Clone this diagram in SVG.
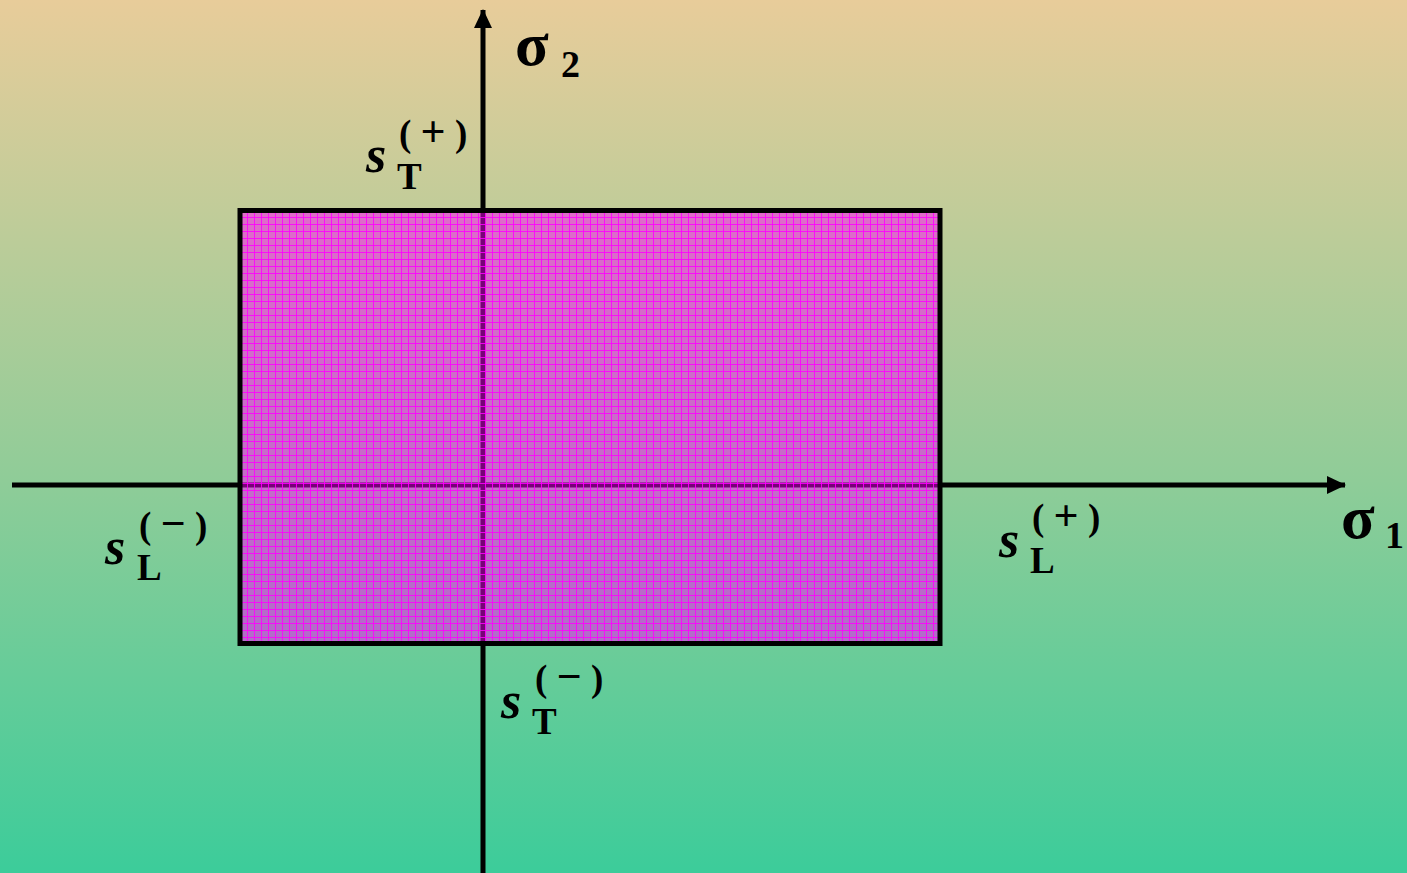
<svg xmlns="http://www.w3.org/2000/svg" width="1407" height="873" viewBox="0 0 1407 873">
<defs>
<linearGradient id="bg" x1="0" y1="0" x2="0" y2="1">
<stop offset="0" stop-color="#e8cc9a"/>
<stop offset="0.55" stop-color="#8fcc98"/>
<stop offset="1" stop-color="#3ccc9a"/>
</linearGradient>
<pattern id="grid" x="240" y="210" width="7" height="7" patternUnits="userSpaceOnUse">
<rect x="0" y="0" width="7" height="7" fill="#ff00ff" fill-opacity="0.47"/>
<rect x="0" y="0" width="7" height="1" fill="#ff00ff" fill-opacity="0.85"/>
<rect x="0" y="0" width="1" height="7" fill="#ff00ff" fill-opacity="0.85"/>
</pattern>
<marker id="arr" viewBox="0 0 20 20" refX="18" refY="10" markerWidth="20" markerHeight="20" markerUnits="userSpaceOnUse" orient="auto">
<path d="M0,1 L19,10 L0,19 Z" fill="#000"/>
</marker>
</defs>
<style>
.ax{stroke:#000;stroke-width:5;fill:none}
.t{font-family:"Liberation Serif","Times New Roman",serif;font-weight:bold;fill:#000}
.s{font-style:italic;font-size:52px}
.sub{font-size:37px}
.sup{font-size:37px}
.op{font-size:44px}
.sig{font-size:62px}
.num{font-size:38px}
</style>
<rect width="1407" height="873" fill="url(#bg)"/>
<g id="connectors">
<line class="ax" x1="483" y1="873" x2="483" y2="10" marker-end="url(#arr)"/>
<line class="ax" x1="12" y1="485" x2="1345" y2="485" marker-end="url(#arr)"/>
</g>
<g id="region">
<rect x="240" y="210.5" width="700" height="433" fill="url(#grid)" stroke="#000" stroke-width="5"/>
</g>
<g id="sigma2">
<text class="t sig" x="515" y="65">σ</text>
<text class="t num" x="561" y="77">2</text>
</g>
<g id="sigma1">
<text class="t sig" x="1341" y="538">σ</text>
<text class="t num" x="1385" y="548">1</text>
</g>
<g id="sTplus">
<text class="t s" x="366" y="172">s</text>
<text class="t sub" x="397" y="189">T</text>
<text class="t sup" x="399" y="146">( <tspan class="op">+</tspan> )</text>
</g>
<g id="sLminus">
<text class="t s" x="105" y="564">s</text>
<text class="t sub" x="137" y="580">L</text>
<text class="t sup" x="139" y="538">( <tspan class="op">−</tspan> )</text>
</g>
<g id="sLplus">
<text class="t s" x="999" y="557">s</text>
<text class="t sub" x="1030" y="573">L</text>
<text class="t sup" x="1032" y="530">( <tspan class="op">+</tspan> )</text>
</g>
<g id="sTminus">
<text class="t s" x="501" y="718">s</text>
<text class="t sub" x="532" y="734">T</text>
<text class="t sup" x="535" y="691">( <tspan class="op">−</tspan> )</text>
</g>
</svg>
